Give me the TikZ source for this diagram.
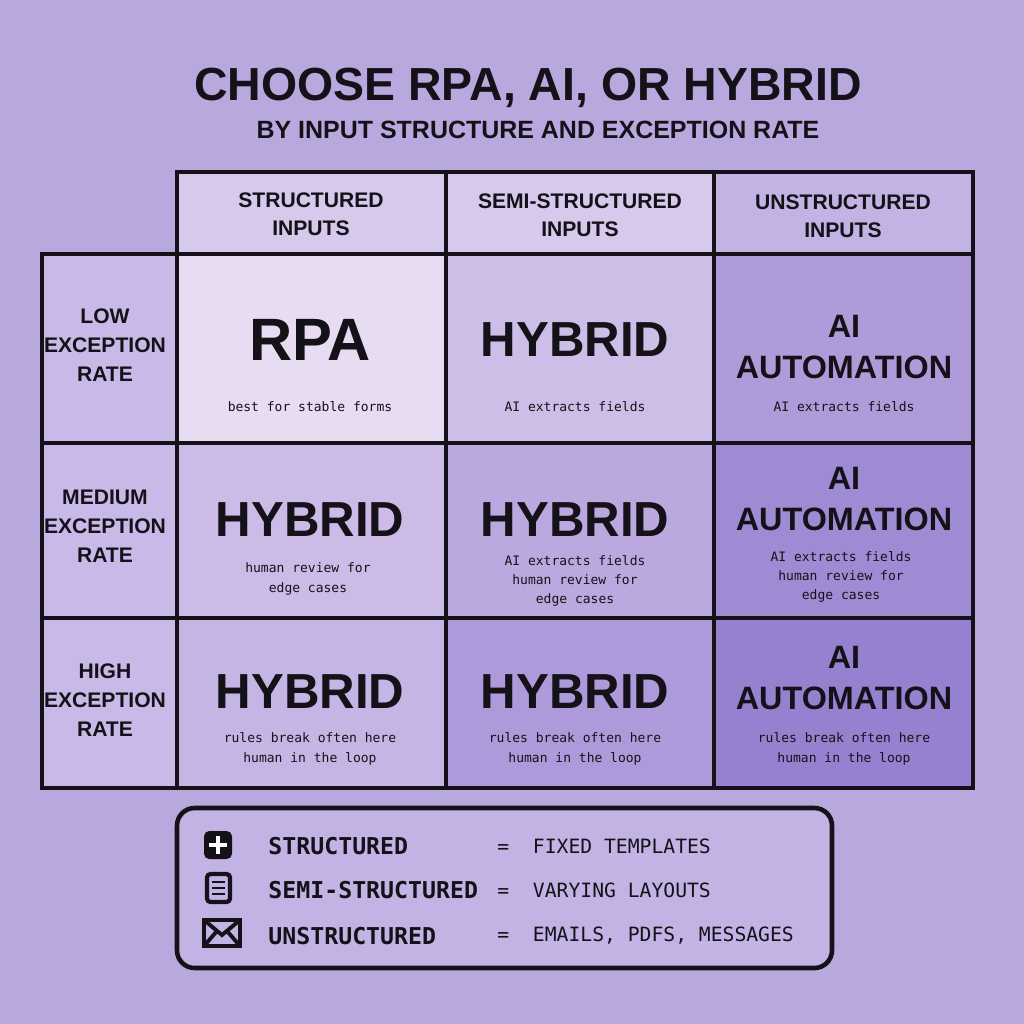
\documentclass[tikz,border=0pt]{standalone}
\usepackage{fontspec}
\setmainfont{Liberation Sans}
\setmonofont{DejaVu Sans Mono}
\usetikzlibrary{positioning}
\definecolor{bg}{HTML}{B9A8DE}
\definecolor{hdA}{HTML}{D6C9EC}
\definecolor{hdC}{HTML}{C3B2E4}
\definecolor{rowlab}{HTML}{C9B9E8}
\definecolor{cAA}{HTML}{E7DCF1}
\definecolor{cAB}{HTML}{CDBEE7}
\definecolor{cAC}{HTML}{AF9BDA}
\definecolor{cBA}{HTML}{CBBBE6}
\definecolor{cBB}{HTML}{BBA8DF}
\definecolor{cBC}{HTML}{9F8AD4}
\definecolor{cCA}{HTML}{C5B5E4}
\definecolor{cCB}{HTML}{AE9ADA}
\definecolor{cCC}{HTML}{9581CF}
\definecolor{legfill}{HTML}{C3B3E5}
\definecolor{ink}{HTML}{141218}
\tikzset{
    cell/.style = {draw=ink, line width=1.4pt, inner sep=0pt, align=center},
    head/.style = {font=\fontsize{6}{8}\selectfont\bfseries, text=ink},
    rlab/.style = {font=\fontsize{6}{8.2}\selectfont\bfseries, text=ink, align=center},
    big/.style = {font=\fontsize{17}{18}\selectfont\bfseries, text=ink},
    mid/.style = {font=\fontsize{14}{14}\selectfont\bfseries, text=ink},
    auto/.style = {font=\fontsize{9.2}{11.5}\selectfont\bfseries, text=ink, align=center},
    note/.style = {font=\ttfamily\fontsize{3.7}{5.5}\selectfont, text=ink, align=center},
    leg/.style = {font=\ttfamily\fontsize{6.6}{8}\selectfont\bfseries, text=ink, anchor=west},
    legr/.style = {font=\ttfamily\fontsize{5.6}{8}\selectfont, text=ink, anchor=west},
}
\begin{document}
\begin{tikzpicture}[x=0.01cm, y=-0.01cm]
\fill[bg] (0,0) rectangle (1024,1024);
\useasboundingbox (0,0) rectangle (1024,1024);

% title
\node[font=\fontsize{13.2}{14}\selectfont\bfseries, text=ink] (title) at (528,88) {CHOOSE RPA, AI, OR HYBRID};
\node[font=\fontsize{7.1}{9}\selectfont\bfseries, text=ink] (subtitle) at (538,130) {BY INPUT STRUCTURE AND EXCEPTION RATE};

% header row
\draw[cell, fill=hdA] (177,172) rectangle (446,254);
\draw[cell, fill=hdA] (446,172) rectangle (714,254);
\draw[cell, fill=hdC] (714,172) rectangle (973,254);
\node[head, align=center] (hS) at (311,214) {STRUCTURED\\INPUTS};
\node[head, align=center] (hM) at (580,215) {SEMI-STRUCTURED\\INPUTS};
\node[head, align=center] (hU) at (843,216) {UNSTRUCTURED\\INPUTS};

% row labels
\draw[cell, fill=rowlab] (42,254) rectangle (177,443);
\draw[cell, fill=rowlab] (42,443) rectangle (177,618);
\draw[cell, fill=rowlab] (42,618) rectangle (177,788);
\node[rlab] (rL) at (105,345) {LOW\\EXCEPTION\\RATE};
\node[rlab] (rM) at (105,526) {MEDIUM\\EXCEPTION\\RATE};
\node[rlab] (rH) at (105,700) {HIGH\\EXCEPTION\\RATE};

% cells
\draw[cell, fill=cAA] (177,254) rectangle (446,443);
\draw[cell, fill=cAB] (446,254) rectangle (714,443);
\draw[cell, fill=cAC] (714,254) rectangle (973,443);
\draw[cell, fill=cBA] (177,443) rectangle (446,618);
\draw[cell, fill=cBB] (446,443) rectangle (714,618);
\draw[cell, fill=cBC] (714,443) rectangle (973,618);
\draw[cell, fill=cCA] (177,618) rectangle (446,788);
\draw[cell, fill=cCB] (446,618) rectangle (714,788);
\draw[cell, fill=cCC] (714,618) rectangle (973,788);

\node[big] (rpa) at (310,340) {RPA};
\node[note] (rpaN) at (310,407) {best for stable forms};
\node[mid] (hAB) at (575,340) {HYBRID};
\node[note] (hABN) at (575,407) {AI extracts fields};
\node[auto] (aAC) at (844,347) {AI\\AUTOMATION};
\node[note] (aACN) at (844,407) {AI extracts fields};

\node[mid] (hBA) at (310,520) {HYBRID};
\node[note] (hBAN) at (308,579) {human review for\\edge cases};
\node[mid] (hBB) at (575,520) {HYBRID};
\node[note] (hBBN) at (575,581) {AI extracts fields\\human review for\\edge cases};
\node[auto] (aBC) at (844,499) {AI\\AUTOMATION};
\node[note] (aBCN) at (841,577) {AI extracts fields\\human review for\\edge cases};

\node[mid] (hCA) at (310,692) {HYBRID};
\node[note] (hCAN) at (310,749) {rules break often here\\human in the loop};
\node[mid] (hCB) at (575,692) {HYBRID};
\node[note] (hCBN) at (575,749) {rules break often here\\human in the loop};
\node[auto] (aCC) at (844,678) {AI\\AUTOMATION};
\node[note] (aCCN) at (844,749) {rules break often here\\human in the loop};

% legend
\draw[draw=ink, line width=1.3pt, fill=legfill, rounded corners=5pt] (177,808) rectangle (832,968);
% grid icon
\fill[ink, rounded corners=1.5pt] (204,831) rectangle (232,859);
\draw[white, line width=1.2pt] (218,836) -- (218,854) (209,845) -- (227,845);
% document icon
\draw[ink, line width=1.2pt, rounded corners=1pt] (207,874) rectangle (230,902);
\draw[ink, line width=0.8pt] (212,882) -- (225,882) (212,888) -- (225,888) (212,894) -- (225,894);
% envelope icon
\draw[ink, line width=1.2pt] (204,920) rectangle (240,946);
\draw[ink, line width=1.1pt] (204,920) -- (222,935) -- (240,920) (204,946) -- (217,931) (240,946) -- (227,931);

\node[leg] (lS) at (256,846) {STRUCTURED};
\node[leg] (lM) at (256,890) {SEMI-STRUCTURED};
\node[leg] (lU) at (256,936) {UNSTRUCTURED};
\node[legr] (eS) at (485,846) {=\ \ FIXED TEMPLATES};
\node[legr] (eM) at (485,890) {=\ \ VARYING LAYOUTS};
\node[legr] (eU) at (485,936) {=\ \ EMAILS, PDFS, MESSAGES};
\end{tikzpicture}
\end{document}
